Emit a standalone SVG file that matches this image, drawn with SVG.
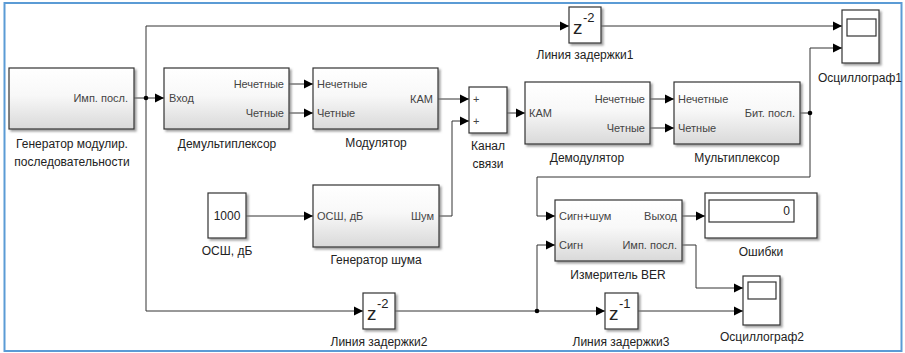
<svg xmlns="http://www.w3.org/2000/svg" width="905" height="353" viewBox="0 0 905 353">
<defs>
<linearGradient id="g" x1="0" y1="0" x2="0" y2="1">
<stop offset="0" stop-color="#ffffff"/>
<stop offset="0.45" stop-color="#f8f8f8"/>
<stop offset="1" stop-color="#d9d9d9"/>
</linearGradient>
<filter id="sh" x="-10%" y="-10%" width="130%" height="130%">
<feDropShadow dx="2" dy="2" stdDeviation="1.2" flood-color="#777" flood-opacity="0.7"/>
</filter>
<marker id="ar" markerUnits="userSpaceOnUse" markerWidth="10" markerHeight="10" viewBox="0 0 10 10" refX="9" refY="5" orient="auto">
<path d="M0,0.5 L9,5 L0,9.5 Z" fill="#000"/>
</marker>
<style>
.blk{fill:url(#g);stroke:#333;stroke-width:1.2;filter:url(#sh)}
.sb{fill:#fff;stroke:#333;stroke-width:1.2;filter:url(#sh)}
.in{fill:#fff;stroke:#333;stroke-width:1.2}
.w{fill:none;stroke:#333;stroke-width:1}
.wa{fill:none;stroke:#333;stroke-width:1;marker-end:url(#ar)}
.p{font-family:"Liberation Sans",Arial,sans-serif;font-size:11px;fill:#444}
.c{font-family:"Liberation Sans",Arial,sans-serif;font-size:12px;fill:#222;text-anchor:middle}
.z{font-family:"Liberation Sans",Arial,sans-serif;fill:#222}
</style>
</defs>
<rect x="0" y="0" width="905" height="353" fill="#fff"/>
<rect x="4.5" y="3" width="897" height="348" fill="none" stroke="#5b9bd5" stroke-width="2"/>

<g id="connectors">
<path class="wa" d="M134,98 H164"/>
<path class="wa" d="M146,98 V26 H569"/>
<path class="wa" d="M146,98 V311 H363"/>
<path class="wa" d="M289,84 H313"/>
<path class="wa" d="M289,113 H313"/>
<path class="wa" d="M438,99 H469"/>
<path class="wa" d="M246,216 H313"/>
<path class="wa" d="M439,216 H452 V121 H469"/>
<path class="wa" d="M507,113 H525"/>
<path class="wa" d="M650,99 H674"/>
<path class="wa" d="M650,128 H674"/>
<path class="wa" d="M800,113 H810 V48 H842"/>
<path class="wa" d="M810,113 V177 H537 V216 H555"/>
<path class="wa" d="M601,26 H842"/>
<path class="wa" d="M395,311 H605"/>
<path class="wa" d="M537,311 V245 H555"/>
<path class="wa" d="M638,311 H743"/>
<path class="wa" d="M682,216 H705"/>
<path class="wa" d="M682,245 H696 V288 H743"/>
<circle cx="146" cy="98" r="2.3" fill="#000"/>
<circle cx="810" cy="113" r="2.3" fill="#000"/>
<circle cx="537" cy="311" r="2.3" fill="#000"/>
</g>

<g id="gen">
<rect class="blk" x="9" y="68" width="125" height="61"/>
<text class="p" x="128" y="102" text-anchor="end">Имп. посл.</text>
<text class="c" x="72" y="148">Генератор модулир.</text>
<text class="c" x="72" y="166">последовательности</text>
</g>

<g id="demux">
<rect class="blk" x="164" y="68" width="125" height="61"/>
<text class="p" x="169" y="102">Вход</text>
<text class="p" x="284" y="88" text-anchor="end">Нечетные</text>
<text class="p" x="284" y="117" text-anchor="end">Четные</text>
<text class="c" x="227" y="148">Демультиплексор</text>
</g>

<g id="mod">
<rect class="blk" x="313" y="68" width="125" height="61"/>
<text class="p" x="317" y="88">Нечетные</text>
<text class="p" x="317" y="117">Четные</text>
<text class="p" x="433" y="103" text-anchor="end">КАМ</text>
<text class="c" x="376" y="147">Модулятор</text>
</g>

<g id="sum">
<rect class="sb" x="469" y="87" width="38" height="46"/>
<text class="p" x="473" y="103" fill="#222">+</text>
<text class="p" x="473" y="125" fill="#222">+</text>
<text class="c" x="488" y="150">Канал</text>
<text class="c" x="488" y="168">связи</text>
</g>

<g id="demod">
<rect class="blk" x="525" y="82" width="125" height="62"/>
<text class="p" x="529" y="117">КАМ</text>
<text class="p" x="645" y="103" text-anchor="end">Нечетные</text>
<text class="p" x="645" y="132" text-anchor="end">Четные</text>
<text class="c" x="587" y="162">Демодулятор</text>
</g>

<g id="mux">
<rect class="blk" x="674" y="82" width="126" height="62"/>
<text class="p" x="678" y="103">Нечетные</text>
<text class="p" x="678" y="132">Четные</text>
<text class="p" x="795" y="117" text-anchor="end">Бит. посл.</text>
<text class="c" x="737" y="162">Мультиплексор</text>
</g>

<g id="delay1">
<rect class="sb" x="569" y="7" width="32" height="36"/>
<text class="z" x="573" y="34" font-size="19">z</text>
<text class="z" x="583" y="22" font-size="13">-2</text>
<text class="c" x="585" y="59">Линия задержки1</text>
</g>

<g id="scope1">
<rect class="sb" x="842" y="10" width="37" height="53"/>
<rect class="in" x="847" y="19" width="29" height="17"/>
<text class="c" x="860" y="82">Осциллограф1</text>
</g>

<g id="const">
<rect class="sb" x="208" y="193" width="38" height="45"/>
<text class="z" x="227" y="220" font-size="12" text-anchor="middle">1000</text>
<text class="c" x="227" y="255">ОСШ, дБ</text>
</g>

<g id="noise">
<rect class="blk" x="313" y="185" width="126" height="62"/>
<text class="p" x="317" y="220">ОСШ, дБ</text>
<text class="p" x="434" y="220" text-anchor="end">Шум</text>
<text class="c" x="376" y="264">Генератор шума</text>
</g>

<g id="ber">
<rect class="blk" x="555" y="200" width="127" height="61"/>
<text class="p" x="559" y="220">Сигн+шум</text>
<text class="p" x="559" y="249">Сигн</text>
<text class="p" x="677" y="220" text-anchor="end">Выход</text>
<text class="p" x="677" y="249" text-anchor="end">Имп. посл.</text>
<text class="c" x="618" y="279">Измеритель BER</text>
</g>

<g id="display">
<rect class="sb" x="705" y="193" width="112" height="45"/>
<rect class="in" x="709" y="200" width="85" height="22"/>
<text class="z" x="790" y="215" font-size="12" text-anchor="end">0</text>
<text class="c" x="761" y="256">Ошибки</text>
</g>

<g id="delay2">
<rect class="sb" x="363" y="293" width="32" height="36"/>
<text class="z" x="367" y="320" font-size="19">z</text>
<text class="z" x="377" y="308" font-size="13">-2</text>
<text class="c" x="379" y="346">Линия задержки2</text>
</g>

<g id="delay3">
<rect class="sb" x="605" y="293" width="33" height="36"/>
<text class="z" x="609" y="320" font-size="19">z</text>
<text class="z" x="619" y="308" font-size="13">-1</text>
<text class="c" x="621" y="346">Линия задержки3</text>
</g>

<g id="scope2">
<rect class="sb" x="743" y="276" width="37" height="49"/>
<rect class="in" x="748" y="282" width="28" height="17"/>
<text class="c" x="762" y="341">Осциллограф2</text>
</g>
</svg>
